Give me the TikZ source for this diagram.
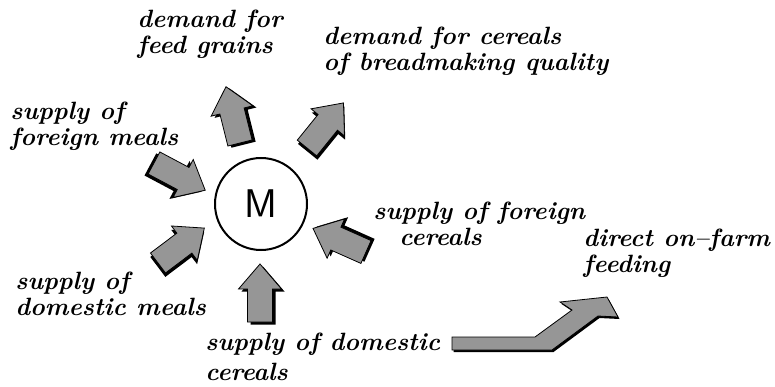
\documentclass[tikz,border=0pt]{standalone}
\usepackage{tikz}
\usetikzlibrary{positioning}
\definecolor{halftone}{HTML}{969696}
\tikzset{lbl/.style={font=\bfseries\itshape\fontsize{12.5}{13}\selectfont,align=left,inner sep=0pt,anchor=base west},
  market/.style={circle,draw,line width=1pt,minimum size=46pt,inner sep=0pt,font=\sffamily\fontsize{20}{20}\selectfont},
  blockarrow/.pic={\fill[black,shift={(-2.5,-3)}] (0,-12.5)--(33,-12.5)--(33,-21.5)--(58,0)--(33,21.5)--(33,12.5)--(0,12.5)--cycle;
    \filldraw[fill=halftone,line width=.4pt] (0,-12.5)--(33,-12.5)--(33,-21.5)--(58,0)--(33,21.5)--(33,12.5)--(0,12.5)--cycle;}}
\begin{document}
\begin{tikzpicture}[x=.5pt,y=.5pt]
\useasboundingbox (0,0) rectangle (775,386);
\node[market] (M) at (261,182) {M};
% labels (placed at the baseline of their last line)
\node[lbl] (feed) at (137,332) {demand for\\feed grains};
\node[lbl] (bread) at (323,315) {demand for cereals\\of breadmaking quality};
\node[lbl] (fmeals) at (10,241) {supply of\\foreign meals};
\node[lbl] (dmeals) at (15,71) {supply of\\domestic meals};
\node[lbl] (fcereals) at (373,141) {supply of foreign\\\hspace*{13pt}cereals};
\node[lbl] (farm) at (583,114) {direct on--farm\\feeding};
\node[lbl] (dcereals) at (205,6) {supply of domestic\\[2pt]cereals};
% block arrows
\pic[rotate=104] (afeed) at (240,243) {blockarrow};
\pic[rotate=51] (abread) at (307,238) {blockarrow};
\pic[rotate=-28] (afmeals) at (154,223) {blockarrow};
\pic[rotate=37] (admeals) at (158,123) {blockarrow};
\pic[rotate=90] (adcereals) at (260,64) {blockarrow};
\pic[rotate=156] (afcereals) at (366,134) {blockarrow};
% bent arrow to farm
\fill[black,shift={(1.5,-2)}] (452,49)--(535,49)--(572,76)--(560,84)--(607,89)--(618,69)--(598,70)--(552,36)--(452,36)--cycle;
\filldraw[fill=halftone,line width=.4pt] (452,49)--(535,49)--(572,76)--(560,84)--(607,89)--(618,69)--(598,70)--(552,36)--(452,36)--cycle;
\end{tikzpicture}
\end{document}
